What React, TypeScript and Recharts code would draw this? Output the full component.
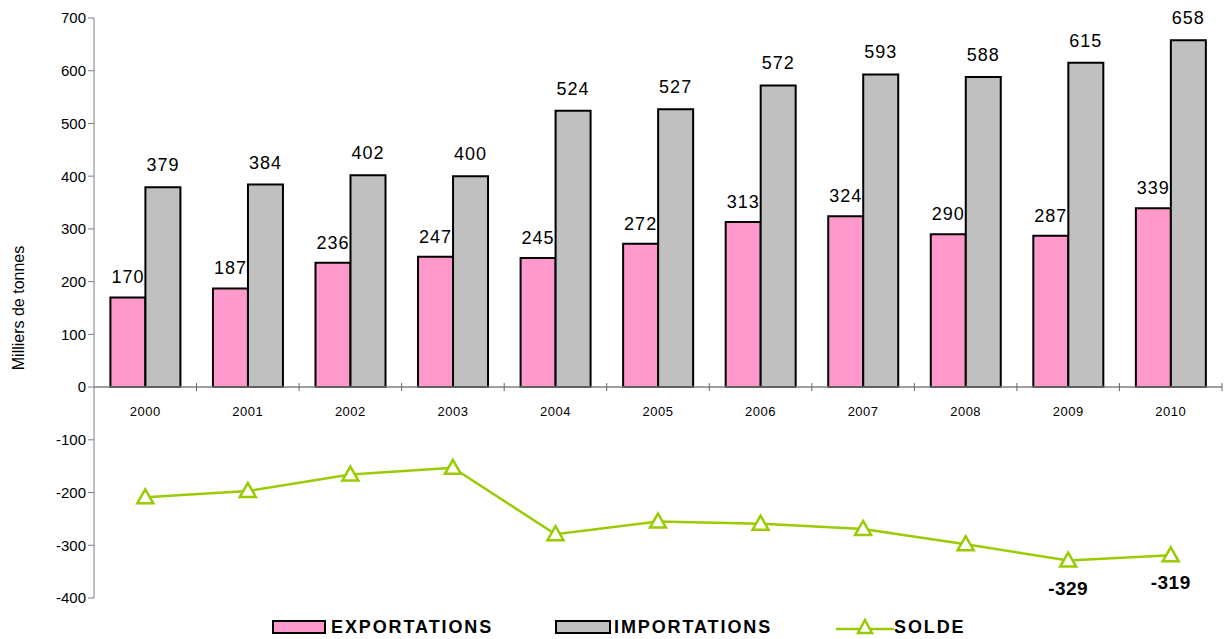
import React from "react";
import {
  ComposedChart,
  Bar,
  Line,
  XAxis,
  YAxis,
  Legend,
  ReferenceLine,
  LabelList,
} from "recharts";

const years = ["2000", "2001", "2002", "2003", "2004", "2005", "2006", "2007", "2008", "2009", "2010"];
const exportations = [170, 187, 236, 247, 245, 272, 313, 324, 290, 287, 339];
const importations = [379, 384, 402, 400, 524, 527, 572, 593, 588, 615, 658];
const solde = [-209, -197, -166, -153, -279, -255, -259, -269, -298, -329, -319];
const yTicks = [-400, -300, -200, -100, 0, 100, 200, 300, 400, 500, 600, 700];

const data = years.map((year, i) => ({
  year,
  exportations: exportations[i],
  importations: importations[i],
  solde: solde[i],
  zero: 0,
}));

const W = 1226;
const H = 639;
const M = { top: 18, right: 4, left: 0, bottom: 5 };
const Y_AXIS_W = 94;
const band = (W - M.left - M.right - Y_AXIS_W) / years.length;

const PINK = "#FF99CC";
const GREY = "#C0C0C0";
const GREEN = "#99CC00";
const FONT = "'Liberation Sans', Arial, sans-serif";

const Triangle = (props: any) => {
  const { cx, cy } = props;
  if (cx == null || cy == null) return null;
  return (
    <path
      d={`M${cx},${cy - 8} L${cx + 8},${cy + 6} L${cx - 8},${cy + 6} Z`}
      fill="#fff"
      stroke={GREEN}
      strokeWidth={2.5}
    />
  );
};

const YearLabel = (props: any) => {
  const { x, y, index, value } = props;
  return (
    <g>
      <text x={x} y={y + 29} textAnchor="middle" fontSize={13} letterSpacing={0.5} fontFamily={FONT} fill="#000">
        {years[index] ?? value}
      </text>
      {index > 0 && (
        <line x1={x - band / 2} x2={x - band / 2} y1={y - 4} y2={y + 4} stroke="#666" />
      )}
      {index === years.length - 1 && (
        <line x1={x + band / 2} x2={x + band / 2} y1={y - 4} y2={y + 4} stroke="#666" />
      )}
    </g>
  );
};

const SoldeLabel = (props: any) => {
  const { x, y, index, value } = props;
  if (index < years.length - 2) return null;
  return (
    <text x={x} y={y + 34} textAnchor="middle" fontSize={19} fontWeight="bold" letterSpacing={0.5} fontFamily={FONT} fill="#000">
      {value}
    </text>
  );
};

const legendText = { letterSpacing: 1.9 };

const renderLegend = () => (
  <div
    style={{
      display: "flex",
      justifyContent: "flex-start",
      alignItems: "center",
      fontFamily: FONT,
      fontWeight: "bold",
      fontSize: 18,
      color: "#000",
      paddingLeft: 272,
      paddingTop: 18,
    }}
  >
    <div style={{ display: "flex", alignItems: "center", width: 283 }}>
      <span style={{ width: 50, height: 10, background: PINK, border: "2px solid #000", marginRight: 5 }} />
      <span style={legendText}>EXPORTATIONS</span>
    </div>
    <div style={{ display: "flex", alignItems: "center", width: 281 }}>
      <span style={{ width: 52, height: 10, background: GREY, border: "2px solid #000", marginRight: 3 }} />
      <span style={legendText}>IMPORTATIONS</span>
    </div>
    <div style={{ display: "flex", alignItems: "center", width: 170 }}>
      <svg width={58} height={22}>
        <line x1={0} x2={58} y1={13} y2={13} stroke={GREEN} strokeWidth={2.5} />
        <path d="M29,4 L36,17 L22,17 Z" fill="#fff" stroke={GREEN} strokeWidth={2.5} />
      </svg>
      <span style={legendText}>SOLDE</span>
    </div>
  </div>
);

export default function App() {
  return (
    <div style={{ position: "absolute", left: 0, top: 0, width: W, height: H, background: "#fff" }}>
      <ComposedChart width={W} height={H} data={data} margin={M} barGap={0} barCategoryGap="16%">
        <XAxis dataKey="year" hide />
        <YAxis
          width={Y_AXIS_W}
          domain={[-400, 700]}
          ticks={yTicks}
          interval={0}
          tickSize={6}
          stroke="#808080"
          tick={{ fill: "#000", fontSize: 15, fontFamily: FONT }}
          label={({ viewBox }: any) => (
            <text
              x={viewBox.x + 24}
              y={viewBox.y + viewBox.height / 2}
              transform={`rotate(-90, ${viewBox.x + 24}, ${viewBox.y + viewBox.height / 2})`}
              textAnchor="middle"
              fontSize={16}
              fontFamily={FONT}
              fill="#000"
            >
              Milliers de tonnes
            </text>
          )}
        />
        <ReferenceLine y={0} stroke="#808080" strokeWidth={1.5} />
        <Bar dataKey="exportations" fill={PINK} stroke="#000" strokeWidth={2} isAnimationActive={false}>
          <LabelList dataKey="exportations" position="top" offset={14} fontSize={18} letterSpacing={1} fontFamily={FONT} fill="#000" />
        </Bar>
        <Bar dataKey="importations" fill={GREY} stroke="#000" strokeWidth={2} isAnimationActive={false}>
          <LabelList dataKey="importations" position="top" offset={16} fontSize={18} letterSpacing={1} fontFamily={FONT} fill="#000" />
        </Bar>
        <Line
          dataKey="zero"
          stroke="none"
          dot={false}
          activeDot={false}
          legendType="none"
          isAnimationActive={false}
        >
          <LabelList dataKey="zero" content={YearLabel} />
        </Line>
        <Line
          dataKey="solde"
          stroke={GREEN}
          strokeWidth={2.5}
          dot={<Triangle />}
          activeDot={false}
          isAnimationActive={false}
        >
          <LabelList dataKey="solde" content={SoldeLabel} />
        </Line>
        <Legend verticalAlign="bottom" height={36} content={renderLegend} />
      </ComposedChart>
    </div>
  );
}
